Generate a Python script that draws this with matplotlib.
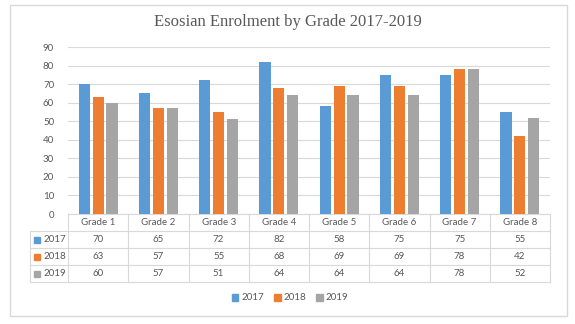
import matplotlib
matplotlib.use("Agg")
import matplotlib.pyplot as plt
from matplotlib.patches import Rectangle, Patch
from matplotlib.lines import Line2D
import numpy as np

categories = ["Grade 1", "Grade 2", "Grade 3", "Grade 4", "Grade 5", "Grade 6", "Grade 7", "Grade 8"]
series_names = ["2017", "2018", "2019"]
v2017 = [70, 65, 72, 82, 58, 75, 75, 55]
v2018 = [63, 57, 55, 68, 69, 69, 78, 42]
v2019 = [60, 57, 51, 64, 64, 64, 78, 52]
yticks = [0, 10, 20, 30, 40, 50, 60, 70, 80, 90]

colors = ["#5B9BD5", "#ED7D31", "#A5A5A5"]
txt = "#595959"
grid = "#D9D9D9"
FONT = "Lato"

W, H = 575, 324
fig = plt.figure(figsize=(W / 100, H / 100), dpi=100)

# overlay in pixel coordinates for border and table
ov = fig.add_axes([0, 0, 1, 1])
ov.set_xlim(0, W)
ov.set_ylim(H, 0)
ov.axis("off")
ov.add_patch(Rectangle((10, 5), 557, 311, fill=False, edgecolor=grid, lw=1))

L, R, B, T = 68, 550, 214, 47
ax = fig.add_axes([L / W, 1 - B / H, (R - L) / W, (B - T) / H])
ax.set_xlim(0, len(categories))
ax.set_ylim(0, 90)
x = np.arange(len(categories)) + 0.5
bw = 0.185
step = 0.23
for i, vals in enumerate([v2017, v2018, v2019]):
    ax.bar(x + (i - 1) * step, vals, width=bw, color=colors[i], zorder=3)
ax.set_yticks(yticks)
ax.set_yticklabels([str(t) for t in yticks], fontsize=7, color=txt, family=FONT)
ax.tick_params(axis="y", length=0, pad=10)
ax.set_xticks([])
ax.grid(axis="y", color=grid, lw=0.8, zorder=0)
for s in ax.spines.values():
    s.set_visible(False)
ax.patch.set_alpha(0)

# title
fig.text(0.5, 1 - 22 / H, "Esosian Enrolment by Grade 2017-2019", ha="center", va="center",
         fontsize=12, color=txt, family="Liberation Serif")

# data table
colw = (R - L) / len(categories)
rows = [214, 231, 248, 265, 282]
ov.add_line(Line2D([L, R], [rows[0], rows[0]], color=grid, lw=0.8))
for yy in rows[1:]:
    ov.add_line(Line2D([30, R], [yy, yy], color=grid, lw=0.8))
for j in range(len(categories) + 1):
    xx = L + j * colw
    ov.add_line(Line2D([xx, xx], [rows[0], rows[-1]], color=grid, lw=0.8))
ov.add_line(Line2D([30, 30], [rows[1], rows[-1]], color=grid, lw=0.8))
for j, c in enumerate(categories):
    ov.text(L + (j + 0.5) * colw, (rows[0] + rows[1]) / 2, c, ha="center", va="center",
            fontsize=7, color=txt, family=FONT)
for i, (name, vals) in enumerate(zip(series_names, [v2017, v2018, v2019])):
    yc = (rows[i + 1] + rows[i + 2]) / 2
    ov.add_patch(Rectangle((34, yc - 3), 6, 6, color=colors[i]))
    ov.text(43, yc, name, ha="left", va="center", fontsize=7, color=txt, family=FONT)
    for j, v in enumerate(vals):
        ov.text(L + (j + 0.5) * colw, yc, str(v), ha="center", va="center",
                fontsize=7, color=txt, family=FONT)

# legend
handles = [Patch(color=c, label=n) for c, n in zip(colors, series_names)]
leg = fig.legend(handles=handles, loc="center", bbox_to_anchor=(290 / W, 1 - 298 / H), ncol=3,
                 frameon=False, prop={"family": FONT, "size": 7}, handlelength=0.7,
                 handleheight=0.7, handletextpad=0.3, columnspacing=1.0)
for t in leg.get_texts():
    t.set_color(txt)

fig.savefig("out.png", dpi=100)
